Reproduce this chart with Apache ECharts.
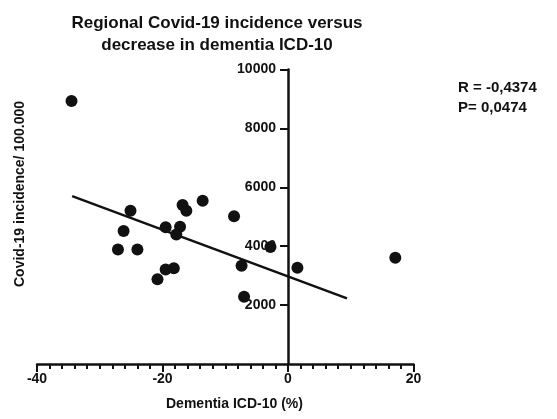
<!DOCTYPE html>
<html>
<head>
<meta charset="utf-8">
<script src="https://cdn.jsdelivr.net/npm/echarts@6/dist/echarts.min.js"></script>
<style>
  html, body { margin: 0; padding: 0; background: #fff; }
  #chart { width: 557px; height: 419px; }
</style>
</head>
<body>
<div id="chart"></div>
<script>
// Change in dementia ICD-10 diagnoses (%) per region
const dementiaChange = [-34.5, -25.1, -26.2, -27.1, -24.0, -20.8, -19.5, -18.2, -19.5, -17.2,
                        -17.8, -16.8, -16.2, -13.6, -8.6, -2.8, -7.4, -7.0, 1.5, 17.1];
// Covid-19 incidence per 100.000 inhabitants for the same regions
const covidIncidence = [8930, 5200, 4520, 3890, 3890, 2880, 3210, 3250, 4640, 4660,
                        4400, 5400, 5200, 5540, 5020, 3970, 3340, 2280, 3270, 3610];
// Linear regression line end points
const fitX = [-34.4, 9.4];
const fitY = [5700, 2230];
// Axis ticks
const xTicks = [-40, -20, 0, 20];
const yTicks = [0, 2000, 4000, 6000, 8000, 10000];
// Correlation annotation
const statsText = ['R = -0,4374', 'P= 0,0474'];

const FONT = '"Liberation Sans", Arial, sans-serif';
const INK = '#111';

const GRID_LEFT = 37;
const GRID_RIGHT = 143.5;
const PLOT_W = 557 - GRID_LEFT - GRID_RIGHT;
const xMin = xTicks[0];
const xMax = xTicks[xTicks.length - 1];
// the vertical axis sits where x = 0
const yAxisShift = PLOT_W * (0 - xMin) / (xMax - xMin);

const points = dementiaChange.map((x, i) => [x, covidIncidence[i]]);
const fitLine = fitX.map((x, i) => [x, fitY[i]]);

const chart = echarts.init(document.getElementById('chart'), null, { renderer: 'canvas' });
chart.setOption({
  animation: false,
  backgroundColor: '#fff',
  title: {
    text: 'Regional Covid-19 incidence versus\ndecrease in dementia ICD-10',
    left: 212,
    top: 7,
    textAlign: 'center',
    textStyle: { fontFamily: FONT, fontSize: 17, fontWeight: 'bold', color: INK, lineHeight: 22 }
  },
  grid: {
    left: GRID_LEFT, right: GRID_RIGHT, top: 69.5, bottom: 55,
    containLabel: false, outerBoundsMode: 'none'
  },
  xAxis: {
    type: 'value',
    min: xMin,
    max: xMax,
    interval: 20,
    splitLine: { show: false },
    axisLine: { onZero: true, lineStyle: { color: INK, width: 2.5 } },
    axisTick: { length: 8, lineStyle: { color: INK, width: 2 } },
    minorTick: { show: true, splitNumber: 10, length: 5, lineStyle: { color: INK, width: 2 } },
    minorSplitLine: { show: false },
    axisLabel: {
      margin: 8, fontFamily: FONT, fontSize: 14, fontWeight: 'bold', color: INK,
      formatter: v => String(v)
    }
  },
  yAxis: {
    type: 'value',
    min: yTicks[0],
    max: yTicks[yTicks.length - 1],
    interval: 2000,
    offset: -yAxisShift,
    splitLine: { show: false },
    axisLine: { onZero: false, lineStyle: { color: INK, width: 2.5 } },
    axisTick: { length: 8, lineStyle: { color: INK, width: 2 } },
    axisLabel: {
      margin: 12, fontFamily: FONT, fontSize: 14, fontWeight: 'bold', color: INK,
      showMinLabel: false,
      formatter: v => String(v)
    }
  },
  graphic: [
    {
      type: 'text', left: 166, top: 397,
      style: { text: 'Dementia ICD-10 (%)', font: 'bold 14px ' + FONT, fill: INK }
    },
    {
      type: 'text', x: 20, y: 194, rotation: Math.PI / 2,
      style: {
        text: 'Covid-19 incidence/ 100.000', font: 'bold 14px ' + FONT, fill: INK,
        align: 'center', verticalAlign: 'middle'
      }
    },
    {
      type: 'text', x: 458, y: 88,
      style: { text: statsText[0], font: 'bold 15px ' + FONT, fill: INK, verticalAlign: 'middle' }
    },
    {
      type: 'text', x: 458, y: 108,
      style: { text: statsText[1], font: 'bold 15px ' + FONT, fill: INK, verticalAlign: 'middle' }
    }
  ],
  series: [
    {
      type: 'line',
      data: fitLine,
      symbol: 'none',
      lineStyle: { color: INK, width: 2.5 },
      z: 2
    },
    {
      type: 'scatter',
      data: points,
      symbol: 'circle',
      symbolSize: 12,
      itemStyle: { color: INK, opacity: 1 },
      z: 3
    }
  ]
});
</script>
</body>
</html>
